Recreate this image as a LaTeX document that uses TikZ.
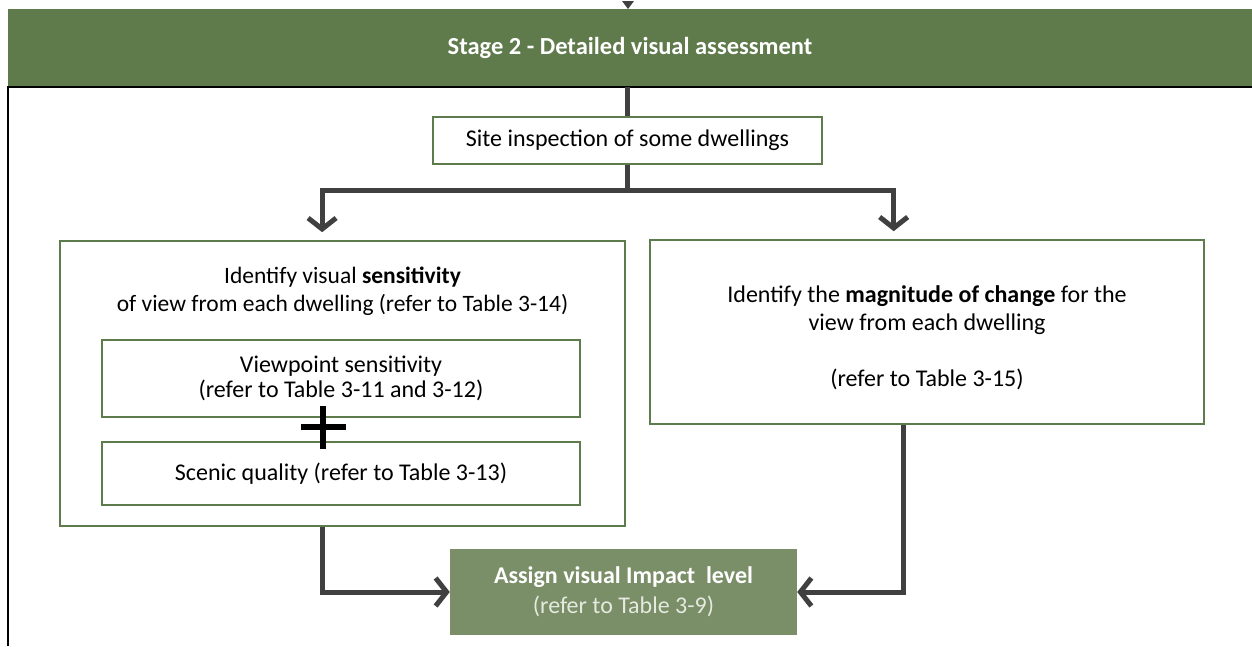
\documentclass[tikz,border=0pt]{standalone}
\usepackage{fontspec}
\setmainfont{Carlito}
\usetikzlibrary{arrows.meta,calc}
\definecolor{bandgreen}{HTML}{5F7A4B}
\definecolor{boxgreen}{HTML}{7A8E68}
\definecolor{edgegreen}{HTML}{5E7B4C}
\definecolor{conngray}{HTML}{404040}
\definecolor{palegreen}{HTML}{E4EADF}
\begin{document}
\begin{tikzpicture}[x=1pt,y=-1pt,
  font=\fontsize{24}{28}\selectfont,
  box/.style={draw=edgegreen, line width=1.6pt, fill=white, inner sep=0pt, align=center},
  conn/.style={draw=conngray, line width=5pt},
  arr/.style={conn, -{Straight Barb[length=11pt,width=28pt]}},
  label/.style={align=center, inner sep=0pt}
]
\useasboundingbox (0,0) rectangle (1252,646);

% header band
\node[fill=bandgreen, minimum width=1244pt, minimum height=78pt, inner sep=0pt,
      text=white, font=\fontsize{24.5}{28}\selectfont\bfseries] (band) at (630,48)
      {Stage 2 - Detailed visual assessment};
\fill[conngray] (622,1) -- (634,1) -- (628,9) -- cycle;
\draw[line width=1.6pt] (band.south east) -- (band.south west) -- (band.south west |- 0,646);

% boxes
\node[box, minimum width=389pt, minimum height=47pt] (site) at (627.5,140.5)
      {Site inspection of some dwellings};
\node[box, minimum width=565pt, minimum height=285pt] (lbox) at (342.5,383.5) {};
\node[box, minimum width=554pt, minimum height=184pt] (rbox) at (927,332) {};
\node[label, font=\fontsize{23.5}{28}\selectfont] (ltext) at (342.5,291)
      {Identify visual \textbf{sensitivity}\\of view from each dwelling (refer to Table 3-14)};
\node[label] (rtext) at (927,338)
      {Identify the \textbf{magnitude of change} for the\\view from each dwelling\\[28pt](refer to Table 3-15)};
\node[box, minimum width=478pt, minimum height=77pt,
      font=\fontsize{24}{25}\selectfont] (vp) at (341,378.5)
      {Viewpoint sensitivity\\(refer to Table 3-11 and 3-12)};
\node[box, minimum width=478pt, minimum height=63pt] (sq) at (341,473.5)
      {Scenic quality (refer to Table 3-13)};
\node[fill=boxgreen, minimum width=347pt, minimum height=86pt, inner sep=0pt,
      align=center, text=white, font=\fontsize{24}{30}\selectfont] (impact) at (623.5,592)
      {\textbf{Assign visual Impact\ \ level}\\{\color{palegreen}(refer to Table 3-9)}};

% plus sign between the two sensitivity inputs
\draw[line width=6pt] (323,406) -- (323,449) (301,427) -- (346,427);

% connectors
\draw[conn] (site.north |- band.south) -- (site.north);
\coordinate (fork) at (site.south |- 0,190);
\coordinate (ltop) at ($(lbox.north west)!0.464!(lbox.north east)+(0,-8)$);
\coordinate (rtop) at ($(rbox.north west)!0.44!(rbox.north east)+(0,-8)$);
\coordinate (lbot) at ($(lbox.south west)!0.464!(lbox.south east)$);
\coordinate (rbot) at ($(rbox.south west)!0.457!(rbox.south east)$);
\draw[conn] (site.south) -- (fork);
\draw[arr] (fork) -| (ltop);
\draw[arr] (fork) -| (rtop);
\draw[arr] (lbot) |- (impact.west);
\draw[arr] (rbot) |- (impact.east);
\end{tikzpicture}
\end{document}
